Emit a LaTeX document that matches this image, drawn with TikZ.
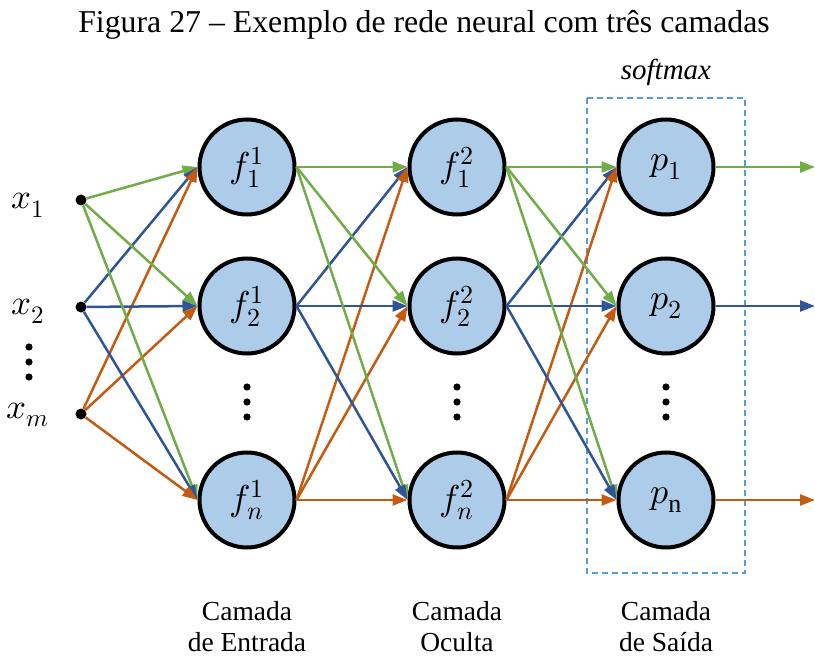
\documentclass[tikz,border=0pt]{standalone}
\usepackage{fontspec}
\usepackage{unicode-math}
\setmainfont{Liberation Serif}
\setmathfont{Latin Modern Math}
\DeclareMathSizes{36}{36}{26}{19}
\DeclareMathSizes{35}{35}{25}{18}
\usetikzlibrary{arrows.meta}
\definecolor{lgreen}{RGB}{112,173,71}
\definecolor{dblue}{RGB}{47,85,151}
\definecolor{rorange}{RGB}{197,90,17}
\definecolor{nfill}{RGB}{172,204,234}
\definecolor{boxblue}{RGB}{91,155,213}
\begin{document}
\begin{tikzpicture}[x=1pt,y=-1pt,
  neuron/.style={circle,draw=black,line width=4pt,fill=nfill,minimum size=95pt,inner sep=0pt,font=\fontsize{36}{38}\selectfont},
  inpt/.style={circle,fill=black,minimum size=11pt,inner sep=0pt},
  link/.style={line width=2.5pt,-{Triangle[length=15pt,width=11pt]}},
  lbl/.style={font=\fontsize{35}{37}\selectfont},
  caption/.style={align=center,font=\fontsize{27.5}{31}\selectfont},
  vdot/.style={fill=black}]
\useasboundingbox (0,0) rectangle (815,658);

% title and softmax label
\node[font=\fontsize{31.8}{34}\selectfont] (title) at (424,25) {Figura 27 – Exemplo de rede neural com três camadas};
\node[font=\fontsize{29}{31}\selectfont\itshape] (smx) at (666,72) {softmax};

% softmax region
\draw[boxblue,line width=1.5pt,dash pattern=on 6pt off 4pt] (587,98) rectangle (745,573);

% inputs
\node[inpt] (i1) at (81,200) {};
\node[inpt] (i2) at (81,307) {};
\node[inpt] (im) at (81,414) {};
\node[lbl] (lx1) at (28,205) {$x_1$};
\node[lbl] (lx2) at (28,311) {$x_2$};
\node[lbl] (lxm) at (28,415) {$x_m$};

% neurons
\node[neuron] (a1) at (247,167) {$f_1^1$};
\node[neuron] (a2) at (247,306) {$f_2^1$};
\node[neuron] (an) at (247,500) {$f_n^1$};
\node[neuron] (b1) at (457,167) {$f_1^2$};
\node[neuron] (b2) at (457,306) {$f_2^2$};
\node[neuron] (bn) at (457,500) {$f_n^2$};
\node[neuron] (p1) at (666,167) {$p_1$};
\node[neuron] (p2) at (666,306) {$p_2$};
\node[neuron] (pn) at (666,500) {$p_{\mathrm{n}}$};

% output ends
\coordinate (o1) at (815,167);
\coordinate (o2) at (815,306);
\coordinate (on) at (815,500);

% vertical ellipses
\foreach \x/\y in {29/347,29/362,29/377,247/387,247/402,247/417,457/387,457/402,457/417,666/387,666/402,666/417}
  \fill[vdot] (\x,\y) circle (3.6pt);

% input to first layer
\foreach \t in {a1,a2,an} {
  \draw[link,lgreen] (i1) -- (\t.west);
  \draw[link,dblue] (i2) -- (\t.west);
  \draw[link,rorange] (im) -- (\t.west);
}
% first to second layer
\foreach \t in {b1,b2,bn} {
  \draw[link,lgreen] (a1.east) -- (\t.west);
  \draw[link,dblue] (a2.east) -- (\t.west);
  \draw[link,rorange] (an.east) -- (\t.west);
}
% second layer to output layer
\foreach \t in {p1,p2,pn} {
  \draw[link,lgreen] (b1.east) -- (\t.west);
  \draw[link,dblue] (b2.east) -- (\t.west);
  \draw[link,rorange] (bn.east) -- (\t.west);
}
% outputs
\draw[link,lgreen] (p1.east) -- (o1);
\draw[link,dblue] (p2.east) -- (o2);
\draw[link,rorange] (pn.east) -- (on);

% layer captions
\node[caption] (c1) at (247,627) {Camada\\de Entrada};
\node[caption] (c2) at (457,627) {Camada\\Oculta};
\node[caption] (c3) at (666,627) {Camada\\de Saída};
\end{tikzpicture}
\end{document}
